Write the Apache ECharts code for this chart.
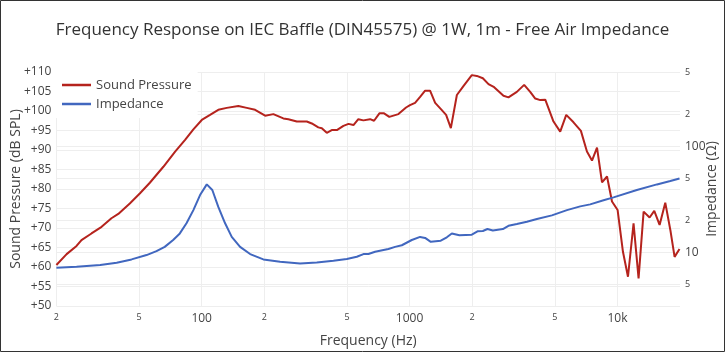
<!DOCTYPE html>
<html>
<head>
<meta charset="utf-8">
<script src="https://cdn.jsdelivr.net/npm/echarts@6/dist/echarts.min.js"></script>
<style>
html,body{margin:0;padding:0;background:#fff;}
#chart{width:725px;height:352px;}
</style>
</head>
<body>
<div id="chart"></div>
<script>
// Sound pressure (dB SPL) vs frequency (Hz)
const splFreq = [20,22.4,25.0,26.4,29.5,33.0,36.8,39.7,45.1,50.5,56.3,65.4,74.5,83.2,91.2,100.1,109.7,120.2,132,150.1,164.8,180.7,201.9,221.2,247.1,261.2,286.7,320.3,338.6,364,378.4,399.8,422.3,446.9,480.7,508.5,537.2,567,599.9,645.8,674.8,716,754,799,884,962,1005,1063,1124,1188,1255,1328,1419,1499,1580,1689,1816,1993,2107,2252,2397,2553,2830,2991,3282,3559,3805,4024,4254,4496,4926,5306,5672,6148,6673,7135,7545,7976,8431,8913,9417,10022,10632,11241,11956,12640,13366,14281,15040,15956,16989,17970,18836,19890];
const splDb = [60.5,63.3,65.4,66.9,68.6,70.3,72.5,73.6,76.3,78.9,81.6,85.7,89.6,92.6,95.3,97.7,99.0,100.3,100.8,101.3,100.8,100.3,98.8,99.2,98.1,97.9,97.3,97.3,96.8,95.8,95.6,94.4,95.1,95.1,96.2,96.7,96.4,97.9,97.6,97.9,97.5,99.4,99.4,98.5,99.2,100.9,101.5,102.1,103.6,105.2,105.2,102.1,100.4,99.0,95.6,104.1,106.4,109.2,109.0,108.4,106.9,106.1,103.9,103.5,104.9,106.7,104.9,103.2,102.8,102.9,97.3,94.7,99.0,97.1,94.9,89.6,87.3,90.6,81.7,83.2,76.8,74.6,63.9,57.5,71.2,57.1,74.2,72.7,74.4,70.8,76.5,69.5,62.6,64.6];

// Impedance (ohm) vs frequency (Hz)
const impFreq = [20,25.0,32.5,39.0,46.0,54.3,60.6,66.4,72.9,78.5,84.5,91.2,98.2,105.8,112.5,120.2,129.6,139.5,153,171,198,238.3,297.3,357.8,430.2,499,557.5,600,634,682.6,791,852,918,1025,1124,1188,1265,1413,1511,1597,1737,1993,2122,2252,2370,2516,2811,2991,3282,3668,4099,4838,5716,6623,7396,8574,9580,12404,15494,17970,19890];
const impOhm = [7.11,7.26,7.54,7.93,8.53,9.37,10.2,11.2,13.0,15.0,18.7,24.9,34.5,43.5,38.5,26.7,18.7,13.9,11.2,9.58,8.53,8.09,7.82,7.99,8.28,8.59,9.03,9.58,9.58,10.06,10.7,11.2,11.6,13.0,13.9,13.6,12.5,12.8,13.8,15.0,14.4,14.6,15.7,15.8,16.5,16.0,16.5,17.7,18.4,19.3,20.5,22.2,24.9,27.0,28.2,30.8,32.8,38.5,43.5,46.8,49.5];

// Tick values and labels
const xTickValues = [20,50,100,200,500,1000,2000,5000,10000];
const xTickLabels = ['2','5','100','2','5','1000','2','5','10k'];
const xMajor = [100,1000,10000];
const yRightTickValues = [5,10,20,50,100,200,500];
const yRightTickLabels = ['5','10','2','5','100','2','5'];
const yRightMajor = [10,100];

const txt = '#444';
const ff = '"Open Sans", sans-serif';
const chart = echarts.init(document.getElementById('chart'), null, {renderer:'canvas'});

function richLabel(values, labels, majors){
  return function(v){
    let i = -1, best = 1e9;
    values.forEach((t,j)=>{const d=Math.abs(Math.log10(t)-Math.log10(v)); if(d<best){best=d;i=j;}});
    if(i<0 || best>0.01) return '';
    const isMajor = majors.some(m=>Math.abs(Math.log10(m)-Math.log10(values[i]))<0.01);
    return isMajor ? '{b|'+labels[i]+'}' : '{s|'+labels[i]+'}';
  };
}
const rich = { b:{fontSize:12,color:txt,fontFamily:ff}, s:{fontSize:9,color:txt,fontFamily:ff} };

chart.setOption({
  backgroundColor:'#fff',
  animation:false,
  title:{
    text:'Frequency Response on IEC Baffle (DIN45575) @ 1W, 1m - Free Air Impedance',
    left:'center', top:22, padding:0,
    textStyle:{fontFamily:ff, fontSize:17, fontWeight:'normal', color:'#333'}
  },
  grid:{left:56.4, right:45, top:72, bottom:46, containLabel:false, outerBoundsMode:'none'},
  legend:{
    data:['Sound Pressure','Impedance'],
    orient:'vertical', left:56, top:72,
    backgroundColor:'#fff',
    padding:[5,6,6,6],
    itemWidth:29, itemHeight:2.5, itemGap:3,
    icon:'rect',
    textStyle:{fontFamily:ff, fontSize:13, color:txt, lineHeight:16, padding:[0,0,0,0]}
  },
  xAxis:{
    type:'log', logBase:10, min:20, max:20000,
    name:'Frequency (Hz)', nameLocation:'middle', nameGap:28, nameMoveOverlap:false,
    nameTextStyle:{fontFamily:ff, fontSize:14, color:txt},
    axisLine:{show:false},
    axisTick:{show:false, customValues:xTickValues},
    axisLabel:{customValues:xTickValues, margin:7, formatter:richLabel(xTickValues,xTickLabels,xMajor), rich:rich},
    splitLine:{show:true, lineStyle:{color:'#eee', width:1}},
    minorSplitLine:{show:false}
  },
  yAxis:[{
    type:'value', min:50, max:110, interval:5, position:'left',
    name:'Sound Pressure (dB SPL)', nameLocation:'middle', nameGap:33, nameRotate:90, nameMoveOverlap:false,
    nameTextStyle:{fontFamily:ff, fontSize:14, color:txt},
    axisLine:{show:false}, axisTick:{show:false},
    axisLabel:{margin:5, color:txt, fontFamily:ff, fontSize:12, formatter:v=>'+'+v},
    splitLine:{show:true, lineStyle:{color:'#eee', width:1}}
  },{
    type:'log', logBase:10, min:3.1, max:500, position:'right',
    name:'Impedance (Ω)', nameLocation:'middle', nameGap:25, nameRotate:90, nameMoveOverlap:false,
    nameTextStyle:{fontFamily:ff, fontSize:14, color:txt},
    axisLine:{show:false},
    axisTick:{show:false, customValues:yRightTickValues},
    axisLabel:{customValues:yRightTickValues, margin:5, formatter:richLabel(yRightTickValues,yRightTickLabels,yRightMajor), rich:rich},
    splitLine:{show:true, lineStyle:{color:'#eee', width:1}}
  }],
  graphic:[{type:'rect', shape:{x:0.5,y:0.5,width:724,height:351}, style:{fill:'none', stroke:'#333', lineWidth:1}, silent:true, z:100}],
  series:[{
    name:'Sound Pressure', type:'line', yAxisIndex:0, symbol:'none', smooth:false,
    color:'#b5231d', lineStyle:{width:2, color:'#b5231d'},
    data: splFreq.map((f,i)=>[f, splDb[i]])
  },{
    name:'Impedance', type:'line', yAxisIndex:1, symbol:'none', smooth:false,
    color:'#4167bf', lineStyle:{width:2, color:'#4167bf'},
    data: impFreq.map((f,i)=>[f, impOhm[i]])
  }]
});
</script>
</body>
</html>
